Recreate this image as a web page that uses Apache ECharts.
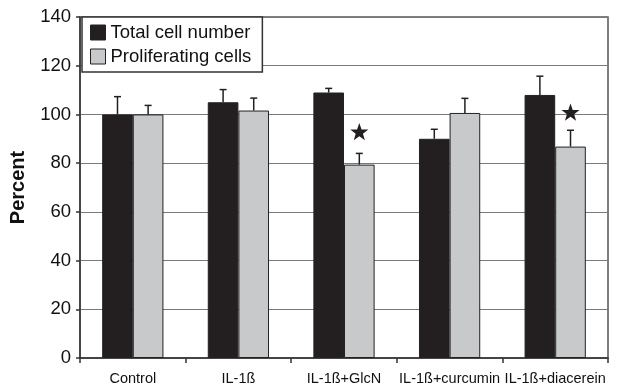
<!DOCTYPE html>
<html>
<head>
<meta charset="utf-8">
<script src="https://cdn.jsdelivr.net/npm/echarts@6/dist/echarts.min.js"></script>
<style>html,body{margin:0;padding:0;background:#fff;}#c{width:627px;height:386px;}</style>
</head>
<body>
<div id="c"></div>
<script>
const categories = ['Control', 'IL-1ß', 'IL-1ß+GlcN', 'IL-1ß+curcumin', 'IL-1ß+diacerein'];
const totalValues = [100, 105, 109, 90, 108];
const totalErrors = [7.3, 5.2, 1.7, 3.9, 7.7];
const prolifValues = [100, 101.6, 79.4, 100.6, 86.8];
const prolifErrors = [3.7, 5.1, 4.6, 6.0, 6.7];
const starPositions = [null, null, 93, null, 101];
const yTicks = [0, 20, 40, 60, 80, 100, 120, 140];

const FONT = 'Arial, "Liberation Sans", sans-serif';
const DARK = '#231f20';
const GRAY = '#c8c9cb';
const CAT_GAP = 0.42;

function barOffset(api, side) {
  const band = api.size([1, 0])[0];
  return side * band * (1 - CAT_GAP) / 4;
}

function errRender(side) {
  return function (params, api) {
    const x = api.value(0), v = api.value(1), e = api.value(2);
    const base = api.coord([x, v]);
    const top = api.coord([x, v + e]);
    const cx = base[0] + barOffset(api, side);
    const style = { stroke: DARK, lineWidth: 1.5 };
    return {
      type: 'group',
      children: [
        { type: 'line', shape: { x1: cx, y1: base[1], x2: cx, y2: top[1] }, style },
        { type: 'line', shape: { x1: cx - 3.5, y1: top[1], x2: cx + 3.5, y2: top[1] }, style }
      ]
    };
  };
}

function starRender(params, api) {
  const x = api.value(0), v = api.value(1);
  const p = api.coord([x, v]);
  const cx = p[0] + barOffset(api, 1), cy = p[1];
  const R = 9.5, r = 3.8;
  const pts = [];
  for (let i = 0; i < 10; i++) {
    const a = -Math.PI / 2 + i * Math.PI / 5;
    const rad = i % 2 === 0 ? R : r;
    pts.push([cx + rad * Math.cos(a), cy + rad * Math.sin(a) + 1]);
  }
  return { type: 'polygon', shape: { points: pts }, style: { fill: DARK } };
}

const chart = echarts.init(document.getElementById('c'), null, { renderer: 'canvas' });
chart.setOption({
  animation: false,
  backgroundColor: '#fff',
  textStyle: { fontFamily: FONT },
  grid: { left: 80, right: 19, top: 17, bottom: 27, show: true, borderColor: '#555', borderWidth: 1.5, containLabel: false },
  legend: {
    orient: 'vertical', left: 82, top: 17,
    padding: [6, 11, 6, 8], itemGap: 5, itemWidth: 15, itemHeight: 15,
    borderColor: '#333', borderWidth: 1.5, backgroundColor: '#fff',
    textStyle: { fontSize: 18.5, color: '#111', fontFamily: FONT },
    data: [
      { name: 'Total cell number', icon: 'rect', itemStyle: { color: DARK, borderColor: '#222', borderWidth: 1 } },
      { name: 'Proliferating cells', icon: 'rect', itemStyle: { color: GRAY, borderColor: '#222', borderWidth: 1 } }
    ]
  },
  xAxis: {
    type: 'category', data: categories,
    axisLine: { lineStyle: { color: '#333', width: 1.5 } },
    axisTick: { show: true, length: 5, lineStyle: { color: '#333', width: 1.5 } },
    axisLabel: { interval: 0, fontSize: 14.5, color: '#111', margin: 13, fontFamily: FONT },
    splitLine: { show: false }
  },
  yAxis: {
    type: 'value', min: 0, max: 140, interval: 20,
    name: 'Percent', nameLocation: 'middle', nameGap: 52,
    nameTextStyle: { fontSize: 20, fontWeight: 'bold', color: '#111', fontFamily: FONT },
    axisLine: { show: true, lineStyle: { color: '#333', width: 1.5 } },
    axisTick: { show: true, length: 4, lineStyle: { color: '#333', width: 1.5 } },
    axisLabel: { fontSize: 18.5, color: '#111', margin: 9, fontFamily: FONT,
      formatter: v => yTicks.includes(v) ? String(v) : '' },
    splitLine: { show: true, lineStyle: { color: '#7a7a7a', width: 1 } }
  },
  series: [
    { name: 'Total cell number', type: 'bar', data: totalValues, barGap: '0%', barCategoryGap: (CAT_GAP * 100) + '%',
      itemStyle: { color: DARK, borderColor: '#222', borderWidth: 1 }, z: 2 },
    { name: 'Proliferating cells', type: 'bar', data: prolifValues, barGap: '0%', barCategoryGap: (CAT_GAP * 100) + '%',
      itemStyle: { color: GRAY, borderColor: '#222', borderWidth: 1 }, z: 2 },
    { type: 'custom', renderItem: errRender(-1), z: 3, silent: true,
      data: categories.map((c, i) => [i, totalValues[i], totalErrors[i]]) },
    { type: 'custom', renderItem: errRender(1), z: 3, silent: true,
      data: categories.map((c, i) => [i, prolifValues[i], prolifErrors[i]]) },
    { type: 'custom', renderItem: starRender, z: 3, silent: true,
      data: starPositions.map((v, i) => v == null ? null : [i, v]).filter(d => d) }
  ]
});
</script>
</body>
</html>
